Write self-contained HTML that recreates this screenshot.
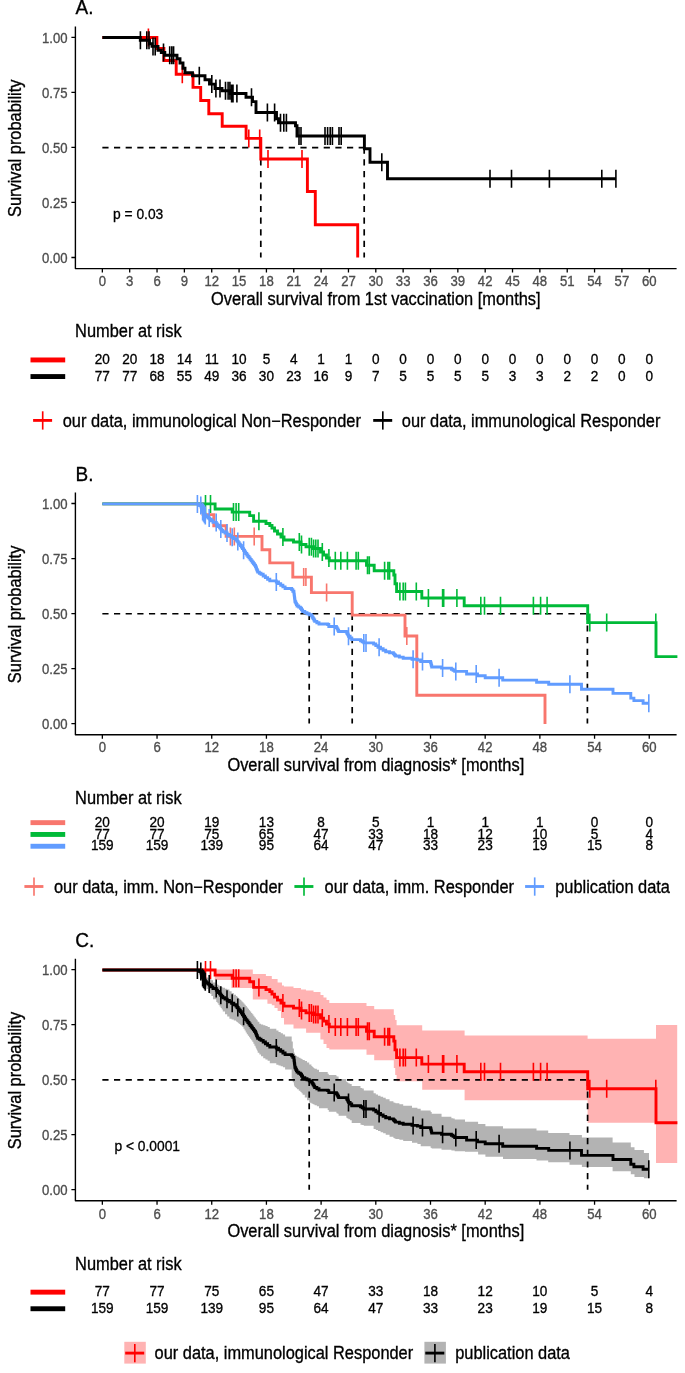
<!DOCTYPE html>
<html><head><meta charset="utf-8"><style>
html,body{margin:0;padding:0;background:#fff;}
svg{display:block;will-change:transform;}
text{font-family:"Liberation Sans", sans-serif;stroke-width:0.3px;}
.tk{stroke:#4D4D4D;} .ax,.ti,.rk,.pv{stroke:#000;}
.tk{font-size:13.15px;fill:#4D4D4D;}
.ax{font-size:16.4px;fill:#000;}
.ti{font-size:19px;fill:#000;}
.rk{font-size:13.6px;fill:#000;}
.pv{font-size:13.8px;fill:#000;}
</style></head><body>
<svg width="685" height="1373" viewBox="0 0 685 1373">
<rect width="685" height="1373" fill="#fff"/>
<text transform="translate(75.60,14.10) scale(1,1.11)" class="ti">A.</text>
<path d="M75.4,26.50V268.60H676.6" fill="none" stroke="#000" stroke-width="1.4" stroke-linejoin="round"/>
<path d="M71.4,257.50H75.4M71.4,202.47H75.4M71.4,147.45H75.4M71.4,92.43H75.4M71.4,37.40H75.4M102.35,268.60V272.60M129.69,268.60V272.60M157.04,268.60V272.60M184.38,268.60V272.60M211.73,268.60V272.60M239.07,268.60V272.60M266.42,268.60V272.60M293.76,268.60V272.60M321.11,268.60V272.60M348.46,268.60V272.60M375.80,268.60V272.60M403.14,268.60V272.60M430.49,268.60V272.60M457.84,268.60V272.60M485.18,268.60V272.60M512.52,268.60V272.60M539.87,268.60V272.60M567.22,268.60V272.60M594.56,268.60V272.60M621.91,268.60V272.60M649.25,268.60V272.60" stroke="#000" stroke-width="1.3"/>
<text transform="translate(67.60,262.75) scale(1,1.14)" text-anchor="end" class="tk">0.00</text>
<text transform="translate(67.60,207.72) scale(1,1.14)" text-anchor="end" class="tk">0.25</text>
<text transform="translate(67.60,152.70) scale(1,1.14)" text-anchor="end" class="tk">0.50</text>
<text transform="translate(67.60,97.68) scale(1,1.14)" text-anchor="end" class="tk">0.75</text>
<text transform="translate(67.60,42.65) scale(1,1.14)" text-anchor="end" class="tk">1.00</text>
<text transform="translate(102.35,286.30) scale(1,1.14)" text-anchor="middle" class="tk">0</text>
<text transform="translate(129.69,286.30) scale(1,1.14)" text-anchor="middle" class="tk">3</text>
<text transform="translate(157.04,286.30) scale(1,1.14)" text-anchor="middle" class="tk">6</text>
<text transform="translate(184.38,286.30) scale(1,1.14)" text-anchor="middle" class="tk">9</text>
<text transform="translate(211.73,286.30) scale(1,1.14)" text-anchor="middle" class="tk">12</text>
<text transform="translate(239.07,286.30) scale(1,1.14)" text-anchor="middle" class="tk">15</text>
<text transform="translate(266.42,286.30) scale(1,1.14)" text-anchor="middle" class="tk">18</text>
<text transform="translate(293.76,286.30) scale(1,1.14)" text-anchor="middle" class="tk">21</text>
<text transform="translate(321.11,286.30) scale(1,1.14)" text-anchor="middle" class="tk">24</text>
<text transform="translate(348.46,286.30) scale(1,1.14)" text-anchor="middle" class="tk">27</text>
<text transform="translate(375.80,286.30) scale(1,1.14)" text-anchor="middle" class="tk">30</text>
<text transform="translate(403.14,286.30) scale(1,1.14)" text-anchor="middle" class="tk">33</text>
<text transform="translate(430.49,286.30) scale(1,1.14)" text-anchor="middle" class="tk">36</text>
<text transform="translate(457.84,286.30) scale(1,1.14)" text-anchor="middle" class="tk">39</text>
<text transform="translate(485.18,286.30) scale(1,1.14)" text-anchor="middle" class="tk">42</text>
<text transform="translate(512.52,286.30) scale(1,1.14)" text-anchor="middle" class="tk">45</text>
<text transform="translate(539.87,286.30) scale(1,1.14)" text-anchor="middle" class="tk">48</text>
<text transform="translate(567.22,286.30) scale(1,1.14)" text-anchor="middle" class="tk">51</text>
<text transform="translate(594.56,286.30) scale(1,1.14)" text-anchor="middle" class="tk">54</text>
<text transform="translate(621.91,286.30) scale(1,1.14)" text-anchor="middle" class="tk">57</text>
<text transform="translate(649.25,286.30) scale(1,1.14)" text-anchor="middle" class="tk">60</text>
<text transform="translate(375.80,305.00) scale(1,1.08)" text-anchor="middle" class="ax">Overall survival from 1st vaccination [months]</text>
<text transform="translate(20.70,148.30) rotate(-90) scale(1,1.08)" text-anchor="middle" class="ax">Survival probability</text>
<path d="M102.35,147.65H364.20M260.80,147.65V257.50M364.20,147.65V257.50" fill="none" stroke="#000" stroke-width="1.7" stroke-dasharray="6.2,5.45"/>
<path d="M102.35,37.50H156.90V48.50H163.90V60.50H176.20V74.20H193.00V87.40H200.70V100.50H208.80V113.70H222.20V126.20H246.10V138.40H260.80V159.00H307.40V191.50H315.30V224.70H357.70V257.50H357.70" fill="none" stroke="#FF0000" stroke-width="2.9" stroke-linejoin="miter"/>
<path d="M148.40,28.50V46.50M182.30,65.20V83.20M248.80,129.40V147.40M259.70,129.40V147.40M268.00,150.00V168.00M302.00,150.00V168.00" fill="none" stroke="#FF0000" stroke-width="1.6"/>
<path d="M102.35,37.50H140.30V40.30H149.50V43.80H152.00V46.40H158.00V50.30H161.30V52.50H164.80V55.20H177.00V58.70H180.00V63.00H183.00V68.30H185.00V72.70H192.50V75.70H205.00V79.70H209.50V84.10H215.00V88.50H222.00V90.70H230.00V93.50H246.00V97.20H252.50V101.60H256.00V112.50H276.50V118.70H278.50V122.80H295.50V125.70H297.00V136.00H364.40V148.80H370.00V162.30H387.50V178.70H615.90" fill="none" stroke="#000000" stroke-width="2.9" stroke-linejoin="miter"/>
<path d="M140.40,31.30V49.30M146.80,31.30V49.30M149.00,31.30V49.30M153.00,37.40V55.40M155.20,37.40V55.40M163.50,43.50V61.50M169.70,46.20V64.20M171.80,46.20V64.20M173.60,46.20V64.20M199.30,66.70V84.70M211.80,75.10V93.10M215.90,79.50V97.50M220.00,79.50V97.50M225.50,81.70V99.70M228.10,81.70V99.70M229.90,81.70V99.70M231.60,84.50V102.50M233.00,84.50V102.50M236.90,84.50V102.50M251.50,88.20V106.20M267.40,103.50V121.50M274.60,103.50V121.50M280.50,113.80V131.80M283.80,113.80V131.80M286.40,113.80V131.80M299.00,127.00V145.00M301.00,127.00V145.00M325.00,127.00V145.00M327.60,127.00V145.00M330.20,127.00V145.00M332.40,127.00V145.00M339.00,127.00V145.00M341.20,127.00V145.00M381.80,153.30V171.30M490.00,169.70V187.70M511.50,169.70V187.70M549.40,169.70V187.70M601.80,169.70V187.70M615.90,169.70V187.70" fill="none" stroke="#000000" stroke-width="1.6"/>
<text transform="translate(113.00,218.90) scale(1,1.08)" class="pv">p = 0.03</text>
<text transform="translate(75.10,337.40) scale(1,1.08)" class="ax">Number at risk</text>
<rect x="30.5" y="357.50" width="34.7" height="4.9" fill="#FF0000"/>
<text transform="translate(102.35,363.90) scale(1,1.07)" text-anchor="middle" class="rk">20</text>
<text transform="translate(129.69,363.90) scale(1,1.07)" text-anchor="middle" class="rk">20</text>
<text transform="translate(157.04,363.90) scale(1,1.07)" text-anchor="middle" class="rk">18</text>
<text transform="translate(184.38,363.90) scale(1,1.07)" text-anchor="middle" class="rk">14</text>
<text transform="translate(211.73,363.90) scale(1,1.07)" text-anchor="middle" class="rk">11</text>
<text transform="translate(239.07,363.90) scale(1,1.07)" text-anchor="middle" class="rk">10</text>
<text transform="translate(266.42,363.90) scale(1,1.07)" text-anchor="middle" class="rk">5</text>
<text transform="translate(293.76,363.90) scale(1,1.07)" text-anchor="middle" class="rk">4</text>
<text transform="translate(321.11,363.90) scale(1,1.07)" text-anchor="middle" class="rk">1</text>
<text transform="translate(348.46,363.90) scale(1,1.07)" text-anchor="middle" class="rk">1</text>
<text transform="translate(375.80,363.90) scale(1,1.07)" text-anchor="middle" class="rk">0</text>
<text transform="translate(403.14,363.90) scale(1,1.07)" text-anchor="middle" class="rk">0</text>
<text transform="translate(430.49,363.90) scale(1,1.07)" text-anchor="middle" class="rk">0</text>
<text transform="translate(457.84,363.90) scale(1,1.07)" text-anchor="middle" class="rk">0</text>
<text transform="translate(485.18,363.90) scale(1,1.07)" text-anchor="middle" class="rk">0</text>
<text transform="translate(512.52,363.90) scale(1,1.07)" text-anchor="middle" class="rk">0</text>
<text transform="translate(539.87,363.90) scale(1,1.07)" text-anchor="middle" class="rk">0</text>
<text transform="translate(567.22,363.90) scale(1,1.07)" text-anchor="middle" class="rk">0</text>
<text transform="translate(594.56,363.90) scale(1,1.07)" text-anchor="middle" class="rk">0</text>
<text transform="translate(621.91,363.90) scale(1,1.07)" text-anchor="middle" class="rk">0</text>
<text transform="translate(649.25,363.90) scale(1,1.07)" text-anchor="middle" class="rk">0</text>
<rect x="30.5" y="374.10" width="34.7" height="4.9" fill="#000000"/>
<text transform="translate(102.35,380.50) scale(1,1.07)" text-anchor="middle" class="rk">77</text>
<text transform="translate(129.69,380.50) scale(1,1.07)" text-anchor="middle" class="rk">77</text>
<text transform="translate(157.04,380.50) scale(1,1.07)" text-anchor="middle" class="rk">68</text>
<text transform="translate(184.38,380.50) scale(1,1.07)" text-anchor="middle" class="rk">55</text>
<text transform="translate(211.73,380.50) scale(1,1.07)" text-anchor="middle" class="rk">49</text>
<text transform="translate(239.07,380.50) scale(1,1.07)" text-anchor="middle" class="rk">36</text>
<text transform="translate(266.42,380.50) scale(1,1.07)" text-anchor="middle" class="rk">30</text>
<text transform="translate(293.76,380.50) scale(1,1.07)" text-anchor="middle" class="rk">23</text>
<text transform="translate(321.11,380.50) scale(1,1.07)" text-anchor="middle" class="rk">16</text>
<text transform="translate(348.46,380.50) scale(1,1.07)" text-anchor="middle" class="rk">9</text>
<text transform="translate(375.80,380.50) scale(1,1.07)" text-anchor="middle" class="rk">7</text>
<text transform="translate(403.14,380.50) scale(1,1.07)" text-anchor="middle" class="rk">5</text>
<text transform="translate(430.49,380.50) scale(1,1.07)" text-anchor="middle" class="rk">5</text>
<text transform="translate(457.84,380.50) scale(1,1.07)" text-anchor="middle" class="rk">5</text>
<text transform="translate(485.18,380.50) scale(1,1.07)" text-anchor="middle" class="rk">5</text>
<text transform="translate(512.52,380.50) scale(1,1.07)" text-anchor="middle" class="rk">3</text>
<text transform="translate(539.87,380.50) scale(1,1.07)" text-anchor="middle" class="rk">3</text>
<text transform="translate(567.22,380.50) scale(1,1.07)" text-anchor="middle" class="rk">2</text>
<text transform="translate(594.56,380.50) scale(1,1.07)" text-anchor="middle" class="rk">2</text>
<text transform="translate(621.91,380.50) scale(1,1.07)" text-anchor="middle" class="rk">0</text>
<text transform="translate(649.25,380.50) scale(1,1.07)" text-anchor="middle" class="rk">0</text>
<path d="M33.10,420.40H52.10" stroke="#FF0000" stroke-width="2.85"/>
<path d="M42.70,411.30V429.60" stroke="#FF0000" stroke-width="1.65"/>
<text transform="translate(62.70,426.50) scale(1,1.08)" class="ax">our data, immunological Non−Responder</text>
<path d="M373.20,420.40H392.20" stroke="#000000" stroke-width="2.85"/>
<path d="M382.80,411.30V429.60" stroke="#000000" stroke-width="1.65"/>
<text transform="translate(401.80,426.50) scale(1,1.08)" class="ax">our data, immunological Responder</text>
<text transform="translate(75.60,481.00) scale(1,1.11)" class="ti">B.</text>
<path d="M75.4,492.60V734.70H676.6" fill="none" stroke="#000" stroke-width="1.4" stroke-linejoin="round"/>
<path d="M71.4,723.60H75.4M71.4,668.58H75.4M71.4,613.55H75.4M71.4,558.53H75.4M71.4,503.50H75.4M102.35,734.70V738.70M157.04,734.70V738.70M211.73,734.70V738.70M266.42,734.70V738.70M321.11,734.70V738.70M375.80,734.70V738.70M430.49,734.70V738.70M485.18,734.70V738.70M539.87,734.70V738.70M594.56,734.70V738.70M649.25,734.70V738.70" stroke="#000" stroke-width="1.3"/>
<text transform="translate(67.60,728.85) scale(1,1.14)" text-anchor="end" class="tk">0.00</text>
<text transform="translate(67.60,673.83) scale(1,1.14)" text-anchor="end" class="tk">0.25</text>
<text transform="translate(67.60,618.80) scale(1,1.14)" text-anchor="end" class="tk">0.50</text>
<text transform="translate(67.60,563.78) scale(1,1.14)" text-anchor="end" class="tk">0.75</text>
<text transform="translate(67.60,508.75) scale(1,1.14)" text-anchor="end" class="tk">1.00</text>
<text transform="translate(102.35,752.40) scale(1,1.14)" text-anchor="middle" class="tk">0</text>
<text transform="translate(157.04,752.40) scale(1,1.14)" text-anchor="middle" class="tk">6</text>
<text transform="translate(211.73,752.40) scale(1,1.14)" text-anchor="middle" class="tk">12</text>
<text transform="translate(266.42,752.40) scale(1,1.14)" text-anchor="middle" class="tk">18</text>
<text transform="translate(321.11,752.40) scale(1,1.14)" text-anchor="middle" class="tk">24</text>
<text transform="translate(375.80,752.40) scale(1,1.14)" text-anchor="middle" class="tk">30</text>
<text transform="translate(430.49,752.40) scale(1,1.14)" text-anchor="middle" class="tk">36</text>
<text transform="translate(485.18,752.40) scale(1,1.14)" text-anchor="middle" class="tk">42</text>
<text transform="translate(539.87,752.40) scale(1,1.14)" text-anchor="middle" class="tk">48</text>
<text transform="translate(594.56,752.40) scale(1,1.14)" text-anchor="middle" class="tk">54</text>
<text transform="translate(649.25,752.40) scale(1,1.14)" text-anchor="middle" class="tk">60</text>
<text transform="translate(375.80,771.10) scale(1,1.08)" text-anchor="middle" class="ax">Overall survival from diagnosis* [months]</text>
<text transform="translate(20.70,614.40) rotate(-90) scale(1,1.08)" text-anchor="middle" class="ax">Survival probability</text>
<path d="M102.35,613.75H587.40M309.20,613.75V723.60M352.20,613.75V723.60M587.40,613.75V723.60" fill="none" stroke="#000" stroke-width="1.7" stroke-dasharray="6.2,5.45"/>
<path d="M102.35,503.90H203.10V514.60H213.80V525.70H226.10V536.40H262.00V549.70H269.80V562.90H292.80V577.10H311.40V592.60H352.20V615.10H405.00V636.00H416.80V695.30H545.00V724.00H545.00" fill="none" stroke="#F8766D" stroke-width="2.9" stroke-linejoin="miter"/>
<path d="M230.40,527.40V545.40M234.30,527.40V545.40M254.20,527.40V545.40M303.70,568.10V586.10M305.90,568.10V586.10M326.60,583.60V601.60M406.80,627.00V645.00" fill="none" stroke="#F8766D" stroke-width="1.6"/>
<path d="M102.35,503.90H215.10V509.00H232.20V512.10H249.70V515.60H253.60V521.30H266.00V523.50H269.80V525.50H272.00V528.00H274.50V531.00H277.50V534.00H281.00V537.00H284.00V540.00H293.50V542.00H301.00V544.50H306.00V546.80H313.50V548.50H320.50V552.00H323.50V555.00H326.50V558.00H329.30V560.80H366.50V565.20H374.20V570.70H393.80V575.00H395.00V583.80H396.60V591.50H421.80V598.00H464.20V605.70H587.70V622.60H656.00V656.60H677.40" fill="none" stroke="#00BA38" stroke-width="2.9" stroke-linejoin="miter"/>
<path d="M205.50,494.90V512.90M210.50,494.90V512.90M233.50,503.10V521.10M236.10,503.10V521.10M238.70,503.10V521.10M258.90,512.30V530.30M282.90,528.00V546.00M299.30,533.00V551.00M301.50,535.50V553.50M309.20,537.80V555.80M311.40,537.80V555.80M313.60,539.50V557.50M315.80,539.50V557.50M318.00,539.50V557.50M322.30,543.00V561.00M328.90,549.00V567.00M335.30,551.80V569.80M340.80,551.80V569.80M347.40,551.80V569.80M356.10,551.80V569.80M358.30,551.80V569.80M367.50,556.20V574.20M369.30,556.20V574.20M384.60,561.70V579.70M387.90,561.70V579.70M389.60,561.70V579.70M399.90,582.50V600.50M403.20,582.50V600.50M405.40,582.50V600.50M416.30,582.50V600.50M428.40,589.00V607.00M442.60,589.00V607.00M443.70,589.00V607.00M456.90,589.00V607.00M480.80,596.70V614.70M484.50,596.70V614.70M500.50,596.70V614.70M533.40,596.70V614.70M540.60,596.70V614.70M547.10,596.70V614.70M589.80,613.60V631.60M606.70,613.60V631.60M655.80,613.60V631.60" fill="none" stroke="#00BA38" stroke-width="1.6"/>
<path d="M102.35,503.90H199.60V505.45H201.00V507.00H201.53V508.47H202.07V509.93H202.60V511.40H203.40V512.80H204.20V514.20H205.30V515.55H206.40V516.90H208.05V518.00H209.70V519.10H211.35V520.75H213.00V522.40H216.30V524.00H217.40V525.27H218.50V526.53H219.60V527.80H220.67V529.10H221.73V530.40H222.80V531.70H225.00V533.05H227.20V534.40H229.40V535.80H231.60V537.20H233.80V538.60H236.00V540.00H237.07V541.38H238.15V542.75H239.23V544.12H240.30V545.50H241.37V547.07H242.43V548.63H243.50V550.20H244.60V551.85H245.70V553.50H246.80V554.97H247.90V556.43H249.00V557.90H250.10V559.37H251.20V560.83H252.30V562.30H253.37V563.73H254.43V565.17H255.50V566.60H256.05V567.98H256.60V569.35H257.15V570.73H257.70V572.10H259.35V573.20H261.00V574.30H263.20V575.95H265.40V577.60H267.60V579.25H269.80V580.90H276.30V582.00H278.50V583.60H280.70V585.20H282.90V586.85H285.10V588.50H291.70V589.60H292.80V591.25H293.90V592.90H294.08V594.37H294.27V595.83H294.45V597.30H294.63V598.77H294.82V600.23H295.00V601.70H295.70V603.13H296.40V604.57H297.10V606.00H298.75V607.10H300.40V608.20H301.50V609.85H302.60V611.50H304.80V612.60H307.00V613.70H309.20V614.80H311.40V615.90H312.22V617.27H313.05V618.65H313.88V620.02H314.70V621.40H316.85V622.70H319.00V624.00H327.70V624.50H328.80V626.50H336.40V627.60H337.13V628.90H337.87V630.20H338.60V631.50H346.30V632.00H347.03V633.43H347.77V634.87H348.50V636.30H350.10V637.95H351.70V639.60H360.50V640.70H362.15V641.80H363.80V642.90H373.60V644.00H375.80V645.65H378.00V647.30H380.57V648.77H383.13V650.23H385.70V651.70H389.55V652.80H393.40V653.90H394.45V654.95H395.50V656.00H399.35V657.10H403.20V658.20H412.00V659.30H417.40V660.00H420.70V661.50H430.60V662.60H430.97V664.07H431.33V665.53H431.70V667.00H441.55V668.10H451.40V669.20H453.05V670.30H454.70V671.40H466.60V674.00H477.50V675.80H485.20V677.70H502.70V680.10H536.60V682.30H548.70V684.30H581.50V689.30H613.00V693.40H630.80V698.10H633.90V700.60H643.10V703.20H648.80" fill="none" stroke="#619CFF" stroke-width="2.9" stroke-linejoin="miter"/>
<path d="M197.40,494.90V512.90M200.80,496.45V514.45M202.60,502.40V520.40M203.50,503.80V521.80M204.40,505.20V523.20M205.30,506.55V524.55M209.20,509.00V527.00M216.20,513.40V531.40M220.80,520.10V538.10M227.00,524.05V542.05M232.20,528.20V546.20M237.80,532.38V550.38M243.60,541.20V559.20M276.30,573.00V591.00M334.20,617.50V635.50M348.50,627.30V645.30M363.80,633.90V651.90M366.00,633.90V651.90M379.10,638.30V656.30M413.10,650.30V668.30M422.50,652.50V670.50M442.60,659.10V677.10M455.80,662.40V680.40M476.20,665.00V683.00M499.10,668.70V686.70M569.90,675.30V693.30M648.80,694.20V712.20" fill="none" stroke="#619CFF" stroke-width="1.6"/>
<text transform="translate(75.10,803.50) scale(1,1.08)" class="ax">Number at risk</text>
<rect x="30.5" y="820.20" width="34.7" height="4.9" fill="#F8766D"/>
<text transform="translate(102.35,826.80) scale(1,1.07)" text-anchor="middle" class="rk">20</text>
<text transform="translate(157.04,826.80) scale(1,1.07)" text-anchor="middle" class="rk">20</text>
<text transform="translate(211.73,826.80) scale(1,1.07)" text-anchor="middle" class="rk">19</text>
<text transform="translate(266.42,826.80) scale(1,1.07)" text-anchor="middle" class="rk">13</text>
<text transform="translate(321.11,826.80) scale(1,1.07)" text-anchor="middle" class="rk">8</text>
<text transform="translate(375.80,826.80) scale(1,1.07)" text-anchor="middle" class="rk">5</text>
<text transform="translate(430.49,826.80) scale(1,1.07)" text-anchor="middle" class="rk">1</text>
<text transform="translate(485.18,826.80) scale(1,1.07)" text-anchor="middle" class="rk">1</text>
<text transform="translate(539.87,826.80) scale(1,1.07)" text-anchor="middle" class="rk">1</text>
<text transform="translate(594.56,826.80) scale(1,1.07)" text-anchor="middle" class="rk">0</text>
<text transform="translate(649.25,826.80) scale(1,1.07)" text-anchor="middle" class="rk">0</text>
<rect x="30.5" y="832.00" width="34.7" height="4.9" fill="#00BA38"/>
<text transform="translate(102.35,838.60) scale(1,1.07)" text-anchor="middle" class="rk">77</text>
<text transform="translate(157.04,838.60) scale(1,1.07)" text-anchor="middle" class="rk">77</text>
<text transform="translate(211.73,838.60) scale(1,1.07)" text-anchor="middle" class="rk">75</text>
<text transform="translate(266.42,838.60) scale(1,1.07)" text-anchor="middle" class="rk">65</text>
<text transform="translate(321.11,838.60) scale(1,1.07)" text-anchor="middle" class="rk">47</text>
<text transform="translate(375.80,838.60) scale(1,1.07)" text-anchor="middle" class="rk">33</text>
<text transform="translate(430.49,838.60) scale(1,1.07)" text-anchor="middle" class="rk">18</text>
<text transform="translate(485.18,838.60) scale(1,1.07)" text-anchor="middle" class="rk">12</text>
<text transform="translate(539.87,838.60) scale(1,1.07)" text-anchor="middle" class="rk">10</text>
<text transform="translate(594.56,838.60) scale(1,1.07)" text-anchor="middle" class="rk">5</text>
<text transform="translate(649.25,838.60) scale(1,1.07)" text-anchor="middle" class="rk">4</text>
<rect x="30.5" y="843.80" width="34.7" height="4.9" fill="#619CFF"/>
<text transform="translate(102.35,850.40) scale(1,1.07)" text-anchor="middle" class="rk">159</text>
<text transform="translate(157.04,850.40) scale(1,1.07)" text-anchor="middle" class="rk">159</text>
<text transform="translate(211.73,850.40) scale(1,1.07)" text-anchor="middle" class="rk">139</text>
<text transform="translate(266.42,850.40) scale(1,1.07)" text-anchor="middle" class="rk">95</text>
<text transform="translate(321.11,850.40) scale(1,1.07)" text-anchor="middle" class="rk">64</text>
<text transform="translate(375.80,850.40) scale(1,1.07)" text-anchor="middle" class="rk">47</text>
<text transform="translate(430.49,850.40) scale(1,1.07)" text-anchor="middle" class="rk">33</text>
<text transform="translate(485.18,850.40) scale(1,1.07)" text-anchor="middle" class="rk">23</text>
<text transform="translate(539.87,850.40) scale(1,1.07)" text-anchor="middle" class="rk">19</text>
<text transform="translate(594.56,850.40) scale(1,1.07)" text-anchor="middle" class="rk">15</text>
<text transform="translate(649.25,850.40) scale(1,1.07)" text-anchor="middle" class="rk">8</text>
<path d="M24.40,886.50H43.40" stroke="#F8766D" stroke-width="2.85"/>
<path d="M34.00,877.40V895.70" stroke="#F8766D" stroke-width="1.65"/>
<text transform="translate(54.00,892.60) scale(1,1.08)" class="ax">our data, imm. Non−Responder</text>
<path d="M294.40,886.50H313.40" stroke="#00BA38" stroke-width="2.85"/>
<path d="M304.00,877.40V895.70" stroke="#00BA38" stroke-width="1.65"/>
<text transform="translate(324.60,892.60) scale(1,1.08)" class="ax">our data, imm. Responder</text>
<path d="M525.10,886.50H544.10" stroke="#619CFF" stroke-width="2.85"/>
<path d="M534.70,877.40V895.70" stroke="#619CFF" stroke-width="1.65"/>
<text transform="translate(555.20,892.60) scale(1,1.08)" class="ax">publication data</text>
<text transform="translate(75.30,947.10) scale(1,1.11)" class="ti">C.</text>
<path d="M75.4,958.70V1200.80H676.6" fill="none" stroke="#000" stroke-width="1.4" stroke-linejoin="round"/>
<path d="M71.4,1189.70H75.4M71.4,1134.67H75.4M71.4,1079.65H75.4M71.4,1024.62H75.4M71.4,969.60H75.4M102.35,1200.80V1204.80M157.04,1200.80V1204.80M211.73,1200.80V1204.80M266.42,1200.80V1204.80M321.11,1200.80V1204.80M375.80,1200.80V1204.80M430.49,1200.80V1204.80M485.18,1200.80V1204.80M539.87,1200.80V1204.80M594.56,1200.80V1204.80M649.25,1200.80V1204.80" stroke="#000" stroke-width="1.3"/>
<text transform="translate(67.60,1194.95) scale(1,1.14)" text-anchor="end" class="tk">0.00</text>
<text transform="translate(67.60,1139.92) scale(1,1.14)" text-anchor="end" class="tk">0.25</text>
<text transform="translate(67.60,1084.90) scale(1,1.14)" text-anchor="end" class="tk">0.50</text>
<text transform="translate(67.60,1029.88) scale(1,1.14)" text-anchor="end" class="tk">0.75</text>
<text transform="translate(67.60,974.85) scale(1,1.14)" text-anchor="end" class="tk">1.00</text>
<text transform="translate(102.35,1218.50) scale(1,1.14)" text-anchor="middle" class="tk">0</text>
<text transform="translate(157.04,1218.50) scale(1,1.14)" text-anchor="middle" class="tk">6</text>
<text transform="translate(211.73,1218.50) scale(1,1.14)" text-anchor="middle" class="tk">12</text>
<text transform="translate(266.42,1218.50) scale(1,1.14)" text-anchor="middle" class="tk">18</text>
<text transform="translate(321.11,1218.50) scale(1,1.14)" text-anchor="middle" class="tk">24</text>
<text transform="translate(375.80,1218.50) scale(1,1.14)" text-anchor="middle" class="tk">30</text>
<text transform="translate(430.49,1218.50) scale(1,1.14)" text-anchor="middle" class="tk">36</text>
<text transform="translate(485.18,1218.50) scale(1,1.14)" text-anchor="middle" class="tk">42</text>
<text transform="translate(539.87,1218.50) scale(1,1.14)" text-anchor="middle" class="tk">48</text>
<text transform="translate(594.56,1218.50) scale(1,1.14)" text-anchor="middle" class="tk">54</text>
<text transform="translate(649.25,1218.50) scale(1,1.14)" text-anchor="middle" class="tk">60</text>
<text transform="translate(375.80,1237.20) scale(1,1.08)" text-anchor="middle" class="ax">Overall survival from diagnosis* [months]</text>
<text transform="translate(20.70,1080.50) rotate(-90) scale(1,1.08)" text-anchor="middle" class="ax">Survival probability</text>
<polygon points="214.80,969.60 252.80,969.60 252.80,973.90 265.90,973.90 265.90,976.10 271.80,976.10 271.80,979.00 277.60,979.00 277.60,982.60 282.00,982.60 282.00,985.50 284.00,985.50 284.00,986.50 293.50,986.50 293.50,988.00 301.00,988.00 301.00,989.50 306.00,989.50 306.00,990.50 313.50,990.50 313.50,992.00 320.50,992.00 320.50,995.00 323.50,995.00 323.50,997.50 326.50,997.50 326.50,1000.00 329.30,1000.00 329.30,1003.10 366.50,1003.10 366.50,1006.10 374.20,1006.10 374.20,1009.20 393.80,1009.20 393.80,1015.00 395.20,1015.00 395.20,1020.00 396.60,1020.00 396.60,1025.30 422.20,1025.30 422.20,1030.50 464.60,1030.50 464.60,1035.50 587.60,1035.50 587.60,1038.70 656.00,1038.70 656.00,1025.00 677.20,1025.00 677.20,1163.00 656.00,1163.00 656.00,1122.80 587.60,1122.80 587.60,1100.20 464.60,1100.20 464.60,1089.80 422.20,1089.80 422.20,1081.20 396.60,1081.20 396.60,1075.00 395.20,1075.00 395.20,1068.00 393.80,1068.00 393.80,1060.20 374.20,1060.20 374.20,1054.70 366.50,1054.70 366.50,1049.50 329.30,1049.50 329.30,1048.00 326.50,1048.00 326.50,1044.00 323.50,1044.00 323.50,1039.50 320.40,1039.50 320.40,1032.70 306.10,1032.70 306.10,1028.60 293.50,1028.60 293.50,1024.50 284.00,1024.50 284.00,1018.00 281.00,1018.00 281.00,1011.00 277.60,1011.00 277.60,1008.00 274.50,1008.00 274.50,1005.30 271.80,1005.30 271.80,1003.80 267.40,1003.80 267.40,999.40 252.80,999.40 252.80,988.00 231.40,988.00 231.40,980.10 214.80,980.10" fill="#FFB3B3"/>
<polygon points="198.20,970.31 199.60,970.31 199.60,971.73 201.00,971.73 201.00,972.71 201.53,972.71 201.53,973.25 202.07,973.25 202.07,973.79 202.60,973.79 202.60,974.47 203.40,974.47 203.40,975.28 204.20,975.28 204.20,976.24 205.30,976.24 205.30,976.93 206.40,976.93 206.40,977.53 208.05,977.53 208.05,978.24 209.70,978.24 209.70,978.96 211.35,978.96 211.35,980.17 213.00,980.17 213.00,982.39 216.30,982.39 216.30,983.87 217.40,983.87 217.40,984.72 218.50,984.72 218.50,985.57 219.60,985.57 219.60,986.35 220.67,986.35 220.67,986.76 221.73,986.76 221.73,987.18 222.80,987.18 222.80,987.81 225.00,987.81 225.00,988.70 227.20,988.70 227.20,989.60 229.40,989.60 229.40,991.15 231.60,991.15 231.60,992.90 233.80,992.90 233.80,994.65 236.00,994.65 236.00,995.95 237.07,995.95 237.07,996.81 238.15,996.81 238.15,997.89 239.23,997.89 239.23,998.96 240.30,998.96 240.30,1000.03 241.37,1000.03 241.37,1001.16 242.43,1001.16 242.43,1002.31 243.50,1002.31 243.50,1003.48 244.60,1003.48 244.60,1004.69 245.70,1004.69 245.70,1006.05 246.80,1006.05 246.80,1007.41 247.90,1007.41 247.90,1008.77 249.00,1008.77 249.00,1010.13 250.10,1010.13 250.10,1011.50 251.20,1011.50 251.20,1012.89 252.30,1012.89 252.30,1014.33 253.37,1014.33 253.37,1015.73 254.43,1015.73 254.43,1017.14 255.50,1017.14 255.50,1018.21 256.05,1018.21 256.05,1018.94 256.60,1018.94 256.60,1019.66 257.15,1019.66 257.15,1020.37 257.70,1020.37 257.70,1021.79 259.35,1021.79 259.35,1023.77 261.00,1023.77 261.00,1024.48 263.20,1024.48 263.20,1025.30 265.40,1025.30 265.40,1026.11 267.60,1026.11 267.60,1027.01 269.80,1027.01 269.80,1028.81 276.30,1028.81 276.30,1030.62 278.50,1030.62 278.50,1031.88 280.70,1031.88 280.70,1033.18 282.90,1033.18 282.90,1034.48 285.10,1034.48 285.10,1036.48 291.70,1036.48 291.70,1041.51 292.80,1041.51 292.80,1048.46 293.90,1048.46 293.90,1051.79 294.08,1051.79 294.08,1052.26 294.27,1052.26 294.27,1052.74 294.45,1052.74 294.45,1053.21 294.63,1053.21 294.63,1053.68 294.82,1053.68 294.82,1054.15 295.00,1054.15 295.00,1055.00 295.70,1055.00 295.70,1055.46 296.40,1055.46 296.40,1055.92 297.10,1055.92 297.10,1056.70 298.75,1056.70 298.75,1057.78 300.40,1057.78 300.40,1058.48 301.50,1058.48 301.50,1059.04 302.60,1059.04 302.60,1059.88 304.80,1059.88 304.80,1060.99 307.00,1060.99 307.00,1062.58 309.20,1062.58 309.20,1064.57 311.40,1064.57 311.40,1065.94 312.22,1065.94 312.22,1066.69 313.05,1066.69 313.05,1067.43 313.88,1067.43 313.88,1068.14 314.70,1068.14 314.70,1068.79 316.85,1068.79 316.85,1069.72 319.00,1069.72 319.00,1072.09 327.70,1072.09 327.70,1073.85 328.80,1073.85 328.80,1075.04 336.40,1075.04 336.40,1076.19 337.13,1076.19 337.13,1076.39 337.87,1076.39 337.87,1076.59 338.60,1076.59 338.60,1079.03 346.30,1079.03 346.30,1081.76 347.03,1081.76 347.03,1082.24 347.77,1082.24 347.77,1082.71 348.50,1082.71 348.50,1083.44 350.10,1083.44 350.10,1084.04 351.70,1084.04 351.70,1085.99 360.50,1085.99 360.50,1087.95 362.15,1087.95 362.15,1088.54 363.80,1088.54 363.80,1090.60 373.60,1090.60 373.60,1093.27 375.80,1093.27 375.80,1094.59 378.00,1094.59 378.00,1095.82 380.57,1095.82 380.57,1096.73 383.13,1096.73 383.13,1097.71 385.70,1097.71 385.70,1099.29 389.55,1099.29 389.55,1101.20 393.40,1101.20 393.40,1102.41 394.45,1102.41 394.45,1102.72 395.50,1102.72 395.50,1103.32 399.35,1103.32 399.35,1104.27 403.20,1104.27 403.20,1105.84 412.00,1105.84 412.00,1107.63 417.40,1107.63 417.40,1108.78 420.70,1108.78 420.70,1110.51 430.60,1110.51 430.60,1111.86 430.97,1111.86 430.97,1111.96 431.33,1111.96 431.33,1112.07 431.70,1112.07 431.70,1113.67 441.55,1113.67 441.55,1116.77 451.40,1116.77 451.40,1118.13 453.05,1118.13 453.05,1118.44 454.70,1118.44 454.70,1119.55 465.00,1119.55 465.00,1121.80 478.10,1121.80 478.10,1124.00 485.40,1124.00 485.40,1126.20 503.00,1126.20 503.00,1128.40 536.50,1128.40 536.50,1130.50 548.20,1130.50 548.20,1132.90 569.50,1132.90 569.50,1135.10 581.90,1135.10 581.90,1137.40 612.60,1137.40 612.60,1142.40 630.80,1142.40 630.80,1147.20 634.50,1147.20 634.50,1150.10 643.90,1150.10 643.90,1153.00 649.00,1153.00 649.00,1178.30 643.90,1178.30 643.90,1176.90 634.50,1176.90 634.50,1174.20 630.80,1174.20 630.80,1171.30 612.60,1171.30 612.60,1166.90 581.90,1166.90 581.90,1164.70 569.50,1164.70 569.50,1162.20 548.20,1162.20 548.20,1160.50 536.50,1160.50 536.50,1159.00 503.00,1159.00 503.00,1156.80 485.40,1156.80 485.40,1154.60 478.10,1154.60 478.10,1151.70 465.00,1151.70 465.00,1151.19 454.70,1151.19 454.70,1150.60 453.05,1150.60 453.05,1150.44 451.40,1150.44 451.40,1149.81 441.55,1149.81 441.55,1148.57 431.70,1148.57 431.70,1147.93 431.33,1147.93 431.33,1147.85 430.97,1147.85 430.97,1147.74 430.60,1147.74 430.60,1146.15 420.70,1146.15 420.70,1144.10 417.40,1144.10 417.40,1142.75 412.00,1142.75 412.00,1141.03 403.20,1141.03 403.20,1139.73 399.35,1139.73 399.35,1138.94 395.50,1138.94 395.50,1138.44 394.45,1138.44 394.45,1137.96 393.40,1137.96 393.40,1136.74 389.55,1136.74 389.55,1134.81 385.70,1134.81 385.70,1133.32 383.13,1133.32 383.13,1132.21 380.57,1132.21 380.57,1131.10 378.00,1131.10 378.00,1130.07 375.80,1130.07 375.80,1128.88 373.60,1128.88 373.60,1125.67 363.80,1125.67 363.80,1125.10 362.15,1125.10 362.15,1124.78 360.50,1124.78 360.50,1123.12 351.70,1123.12 351.70,1120.27 350.10,1120.27 350.10,1119.30 348.50,1119.30 348.50,1118.60 347.77,1118.60 347.77,1118.20 347.03,1118.20 347.03,1117.83 346.30,1117.83 346.30,1115.73 338.60,1115.73 338.60,1113.72 337.87,1113.72 337.87,1113.45 337.13,1113.45 337.13,1113.18 336.40,1113.18 336.40,1111.65 328.80,1111.65 328.80,1110.05 327.70,1110.05 327.70,1108.27 319.00,1108.27 319.00,1106.30 316.85,1106.30 316.85,1105.35 314.70,1105.35 314.70,1104.61 313.88,1104.61 313.88,1104.21 313.05,1104.21 313.05,1103.80 312.22,1103.80 312.22,1103.39 311.40,1103.39 311.40,1102.65 309.20,1102.65 309.20,1100.26 307.00,1100.26 307.00,1097.49 304.80,1097.49 304.80,1094.80 302.60,1094.80 302.60,1093.15 301.50,1093.15 301.50,1092.05 300.40,1092.05 300.40,1090.68 298.75,1090.68 298.75,1089.25 297.10,1089.25 297.10,1088.24 296.40,1088.24 296.40,1087.64 295.70,1087.64 295.70,1087.03 295.00,1087.03 295.00,1086.65 294.82,1086.65 294.82,1086.49 294.63,1086.49 294.63,1086.34 294.45,1086.34 294.45,1085.81 294.27,1085.81 294.27,1085.17 294.08,1085.17 294.08,1084.53 293.90,1084.53 293.90,1082.30 292.80,1082.30 292.80,1078.47 291.70,1078.47 291.70,1069.51 285.10,1069.51 285.10,1067.18 282.90,1067.18 282.90,1066.23 280.70,1066.23 280.70,1065.48 278.50,1065.48 278.50,1064.73 276.30,1064.73 276.30,1063.25 269.80,1063.25 269.80,1060.85 267.60,1060.85 267.60,1059.53 265.40,1059.53 265.40,1058.22 263.20,1058.22 263.20,1056.33 261.00,1056.33 261.00,1054.44 259.35,1054.44 259.35,1052.82 257.70,1052.82 257.70,1050.82 257.15,1050.82 257.15,1049.70 256.60,1049.70 256.60,1048.57 256.05,1048.57 256.05,1047.45 255.50,1047.45 255.50,1045.81 254.43,1045.81 254.43,1043.63 253.37,1043.63 253.37,1041.65 252.30,1041.65 252.30,1040.22 251.20,1040.22 251.20,1038.76 250.10,1038.76 250.10,1037.31 249.00,1037.31 249.00,1035.86 247.90,1035.86 247.90,1034.25 246.80,1034.25 246.80,1032.41 245.70,1032.41 245.70,1030.57 244.60,1030.57 244.60,1028.73 243.50,1028.73 243.50,1026.91 242.43,1026.91 242.43,1025.74 241.37,1025.74 241.37,1024.88 240.30,1024.88 240.30,1024.02 239.23,1024.02 239.23,1023.16 238.15,1023.16 238.15,1022.29 237.07,1022.29 237.07,1021.43 236.00,1021.43 236.00,1020.54 233.80,1020.54 233.80,1019.62 231.60,1019.62 231.60,1018.70 229.40,1018.70 229.40,1016.45 227.20,1016.45 227.20,1014.18 225.00,1014.18 225.00,1011.53 222.80,1011.53 222.80,1009.56 221.73,1009.56 221.73,1008.11 220.67,1008.11 220.67,1006.52 219.60,1006.52 219.60,1004.91 218.50,1004.91 218.50,1003.36 217.40,1003.36 217.40,1001.98 216.30,1001.98 216.30,999.21 213.00,999.21 213.00,996.10 211.35,996.10 211.35,993.77 209.70,993.77 209.70,991.14 208.05,991.14 208.05,988.97 206.40,988.97 206.40,987.24 205.30,987.24 205.30,985.59 204.20,985.59 204.20,983.67 203.40,983.67 203.40,982.06 202.60,982.06 202.60,980.71 202.07,980.71 202.07,979.64 201.53,979.64 201.53,978.56 201.00,978.56 201.00,976.61 199.60,976.61 199.60,972.09 198.20,972.09" fill="#B3B3B3"/>
<path d="M102.35,1079.85H587.60M309.20,1079.85V1189.70M587.60,1079.85V1189.70" fill="none" stroke="#000" stroke-width="1.7" stroke-dasharray="6.2,5.45"/>
<path d="M102.35,970.00H215.10V975.10H232.20V978.20H249.70V981.70H253.60V987.40H266.00V989.60H269.80V991.60H272.00V994.10H274.50V997.10H277.50V1000.10H281.00V1003.10H284.00V1006.10H293.50V1008.10H301.00V1010.60H306.00V1012.90H313.50V1014.60H320.50V1018.10H323.50V1021.10H326.50V1024.10H329.30V1026.90H366.50V1031.30H374.20V1036.80H393.80V1041.10H395.00V1049.90H396.60V1057.60H421.80V1064.10H464.20V1071.80H587.70V1088.70H656.00V1122.70H677.40" fill="none" stroke="#FF0000" stroke-width="2.9" stroke-linejoin="miter"/>
<path d="M205.50,961.00V979.00M210.50,961.00V979.00M233.50,969.20V987.20M236.10,969.20V987.20M238.70,969.20V987.20M258.90,978.40V996.40M282.90,994.10V1012.10M299.30,999.10V1017.10M301.50,1001.60V1019.60M309.20,1003.90V1021.90M311.40,1003.90V1021.90M313.60,1005.60V1023.60M315.80,1005.60V1023.60M318.00,1005.60V1023.60M322.30,1009.10V1027.10M328.90,1015.10V1033.10M335.30,1017.90V1035.90M340.80,1017.90V1035.90M347.40,1017.90V1035.90M356.10,1017.90V1035.90M358.30,1017.90V1035.90M367.50,1022.30V1040.30M369.30,1022.30V1040.30M384.60,1027.80V1045.80M387.90,1027.80V1045.80M389.60,1027.80V1045.80M399.90,1048.60V1066.60M403.20,1048.60V1066.60M405.40,1048.60V1066.60M416.30,1048.60V1066.60M428.40,1055.10V1073.10M442.60,1055.10V1073.10M443.70,1055.10V1073.10M456.90,1055.10V1073.10M480.80,1062.80V1080.80M484.50,1062.80V1080.80M500.50,1062.80V1080.80M533.40,1062.80V1080.80M540.60,1062.80V1080.80M547.10,1062.80V1080.80M589.80,1079.70V1097.70M606.70,1079.70V1097.70M655.80,1079.70V1097.70" fill="none" stroke="#FF0000" stroke-width="1.6"/>
<path d="M102.35,970.00H199.60V971.55H201.00V973.10H201.53V974.57H202.07V976.03H202.60V977.50H203.40V978.90H204.20V980.30H205.30V981.65H206.40V983.00H208.05V984.10H209.70V985.20H211.35V986.85H213.00V988.50H216.30V990.10H217.40V991.37H218.50V992.63H219.60V993.90H220.67V995.20H221.73V996.50H222.80V997.80H225.00V999.15H227.20V1000.50H229.40V1001.90H231.60V1003.30H233.80V1004.70H236.00V1006.10H237.07V1007.48H238.15V1008.85H239.23V1010.23H240.30V1011.60H241.37V1013.17H242.43V1014.73H243.50V1016.30H244.60V1017.95H245.70V1019.60H246.80V1021.07H247.90V1022.53H249.00V1024.00H250.10V1025.47H251.20V1026.93H252.30V1028.40H253.37V1029.83H254.43V1031.27H255.50V1032.70H256.05V1034.08H256.60V1035.45H257.15V1036.83H257.70V1038.20H259.35V1039.30H261.00V1040.40H263.20V1042.05H265.40V1043.70H267.60V1045.35H269.80V1047.00H276.30V1048.10H278.50V1049.70H280.70V1051.30H282.90V1052.95H285.10V1054.60H291.70V1055.70H292.80V1057.35H293.90V1059.00H294.08V1060.47H294.27V1061.93H294.45V1063.40H294.63V1064.87H294.82V1066.33H295.00V1067.80H295.70V1069.23H296.40V1070.67H297.10V1072.10H298.75V1073.20H300.40V1074.30H301.50V1075.95H302.60V1077.60H304.80V1078.70H307.00V1079.80H309.20V1080.90H311.40V1082.00H312.22V1083.38H313.05V1084.75H313.88V1086.12H314.70V1087.50H316.85V1088.80H319.00V1090.10H327.70V1090.60H328.80V1092.60H336.40V1093.70H337.13V1095.00H337.87V1096.30H338.60V1097.60H346.30V1098.10H347.03V1099.53H347.77V1100.97H348.50V1102.40H350.10V1104.05H351.70V1105.70H360.50V1106.80H362.15V1107.90H363.80V1109.00H373.60V1110.10H375.80V1111.75H378.00V1113.40H380.57V1114.87H383.13V1116.33H385.70V1117.80H389.55V1118.90H393.40V1120.00H394.45V1121.05H395.50V1122.10H399.35V1123.20H403.20V1124.30H412.00V1125.40H417.40V1126.10H420.70V1127.60H430.60V1128.70H430.97V1130.17H431.33V1131.63H431.70V1133.10H441.55V1134.20H451.40V1135.30H453.05V1136.40H454.70V1137.50H466.60V1140.10H477.50V1141.90H485.20V1143.80H502.70V1146.20H536.60V1148.40H548.70V1150.40H581.50V1155.40H613.00V1159.50H630.80V1164.20H633.90V1166.70H643.10V1169.30H648.80" fill="none" stroke="#000000" stroke-width="2.9" stroke-linejoin="miter"/>
<path d="M197.40,961.00V979.00M200.80,962.55V980.55M202.60,968.50V986.50M203.50,969.90V987.90M204.40,971.30V989.30M205.30,972.65V990.65M209.20,975.10V993.10M216.20,979.50V997.50M220.80,986.20V1004.20M227.00,990.15V1008.15M232.20,994.30V1012.30M237.80,998.48V1016.48M243.60,1007.30V1025.30M276.30,1039.10V1057.10M334.20,1083.60V1101.60M348.50,1093.40V1111.40M363.80,1100.00V1118.00M366.00,1100.00V1118.00M379.10,1104.40V1122.40M413.10,1116.40V1134.40M422.50,1118.60V1136.60M442.60,1125.20V1143.20M455.80,1128.50V1146.50M476.20,1131.10V1149.10M499.10,1134.80V1152.80M569.90,1141.40V1159.40M648.80,1160.30V1178.30" fill="none" stroke="#000000" stroke-width="1.6"/>
<text transform="translate(114.40,1151.10) scale(1,1.08)" class="pv">p &lt; 0.0001</text>
<text transform="translate(75.10,1269.60) scale(1,1.08)" class="ax">Number at risk</text>
<rect x="30.5" y="1289.70" width="34.7" height="4.9" fill="#FF0000"/>
<text transform="translate(102.35,1296.10) scale(1,1.07)" text-anchor="middle" class="rk">77</text>
<text transform="translate(157.04,1296.10) scale(1,1.07)" text-anchor="middle" class="rk">77</text>
<text transform="translate(211.73,1296.10) scale(1,1.07)" text-anchor="middle" class="rk">75</text>
<text transform="translate(266.42,1296.10) scale(1,1.07)" text-anchor="middle" class="rk">65</text>
<text transform="translate(321.11,1296.10) scale(1,1.07)" text-anchor="middle" class="rk">47</text>
<text transform="translate(375.80,1296.10) scale(1,1.07)" text-anchor="middle" class="rk">33</text>
<text transform="translate(430.49,1296.10) scale(1,1.07)" text-anchor="middle" class="rk">18</text>
<text transform="translate(485.18,1296.10) scale(1,1.07)" text-anchor="middle" class="rk">12</text>
<text transform="translate(539.87,1296.10) scale(1,1.07)" text-anchor="middle" class="rk">10</text>
<text transform="translate(594.56,1296.10) scale(1,1.07)" text-anchor="middle" class="rk">5</text>
<text transform="translate(649.25,1296.10) scale(1,1.07)" text-anchor="middle" class="rk">4</text>
<rect x="30.5" y="1306.30" width="34.7" height="4.9" fill="#000000"/>
<text transform="translate(102.35,1312.70) scale(1,1.07)" text-anchor="middle" class="rk">159</text>
<text transform="translate(157.04,1312.70) scale(1,1.07)" text-anchor="middle" class="rk">159</text>
<text transform="translate(211.73,1312.70) scale(1,1.07)" text-anchor="middle" class="rk">139</text>
<text transform="translate(266.42,1312.70) scale(1,1.07)" text-anchor="middle" class="rk">95</text>
<text transform="translate(321.11,1312.70) scale(1,1.07)" text-anchor="middle" class="rk">64</text>
<text transform="translate(375.80,1312.70) scale(1,1.07)" text-anchor="middle" class="rk">47</text>
<text transform="translate(430.49,1312.70) scale(1,1.07)" text-anchor="middle" class="rk">33</text>
<text transform="translate(485.18,1312.70) scale(1,1.07)" text-anchor="middle" class="rk">23</text>
<text transform="translate(539.87,1312.70) scale(1,1.07)" text-anchor="middle" class="rk">19</text>
<text transform="translate(594.56,1312.70) scale(1,1.07)" text-anchor="middle" class="rk">15</text>
<text transform="translate(649.25,1312.70) scale(1,1.07)" text-anchor="middle" class="rk">8</text>
<rect x="124.30" y="1341.80" width="21.5" height="21.8" fill="#FFB3B3"/>
<path d="M125.20,1353.10H144.20" stroke="#FF0000" stroke-width="2.85"/>
<path d="M134.80,1344.00V1362.30" stroke="#FF0000" stroke-width="1.65"/>
<text transform="translate(154.60,1358.70) scale(1,1.08)" class="ax">our data, immunological Responder</text>
<rect x="424.40" y="1341.80" width="21.5" height="21.8" fill="#B3B3B3"/>
<path d="M425.30,1353.10H444.30" stroke="#000000" stroke-width="2.85"/>
<path d="M434.90,1344.00V1362.30" stroke="#000000" stroke-width="1.65"/>
<text transform="translate(455.20,1358.70) scale(1,1.08)" class="ax">publication data</text>
</svg></body></html>
